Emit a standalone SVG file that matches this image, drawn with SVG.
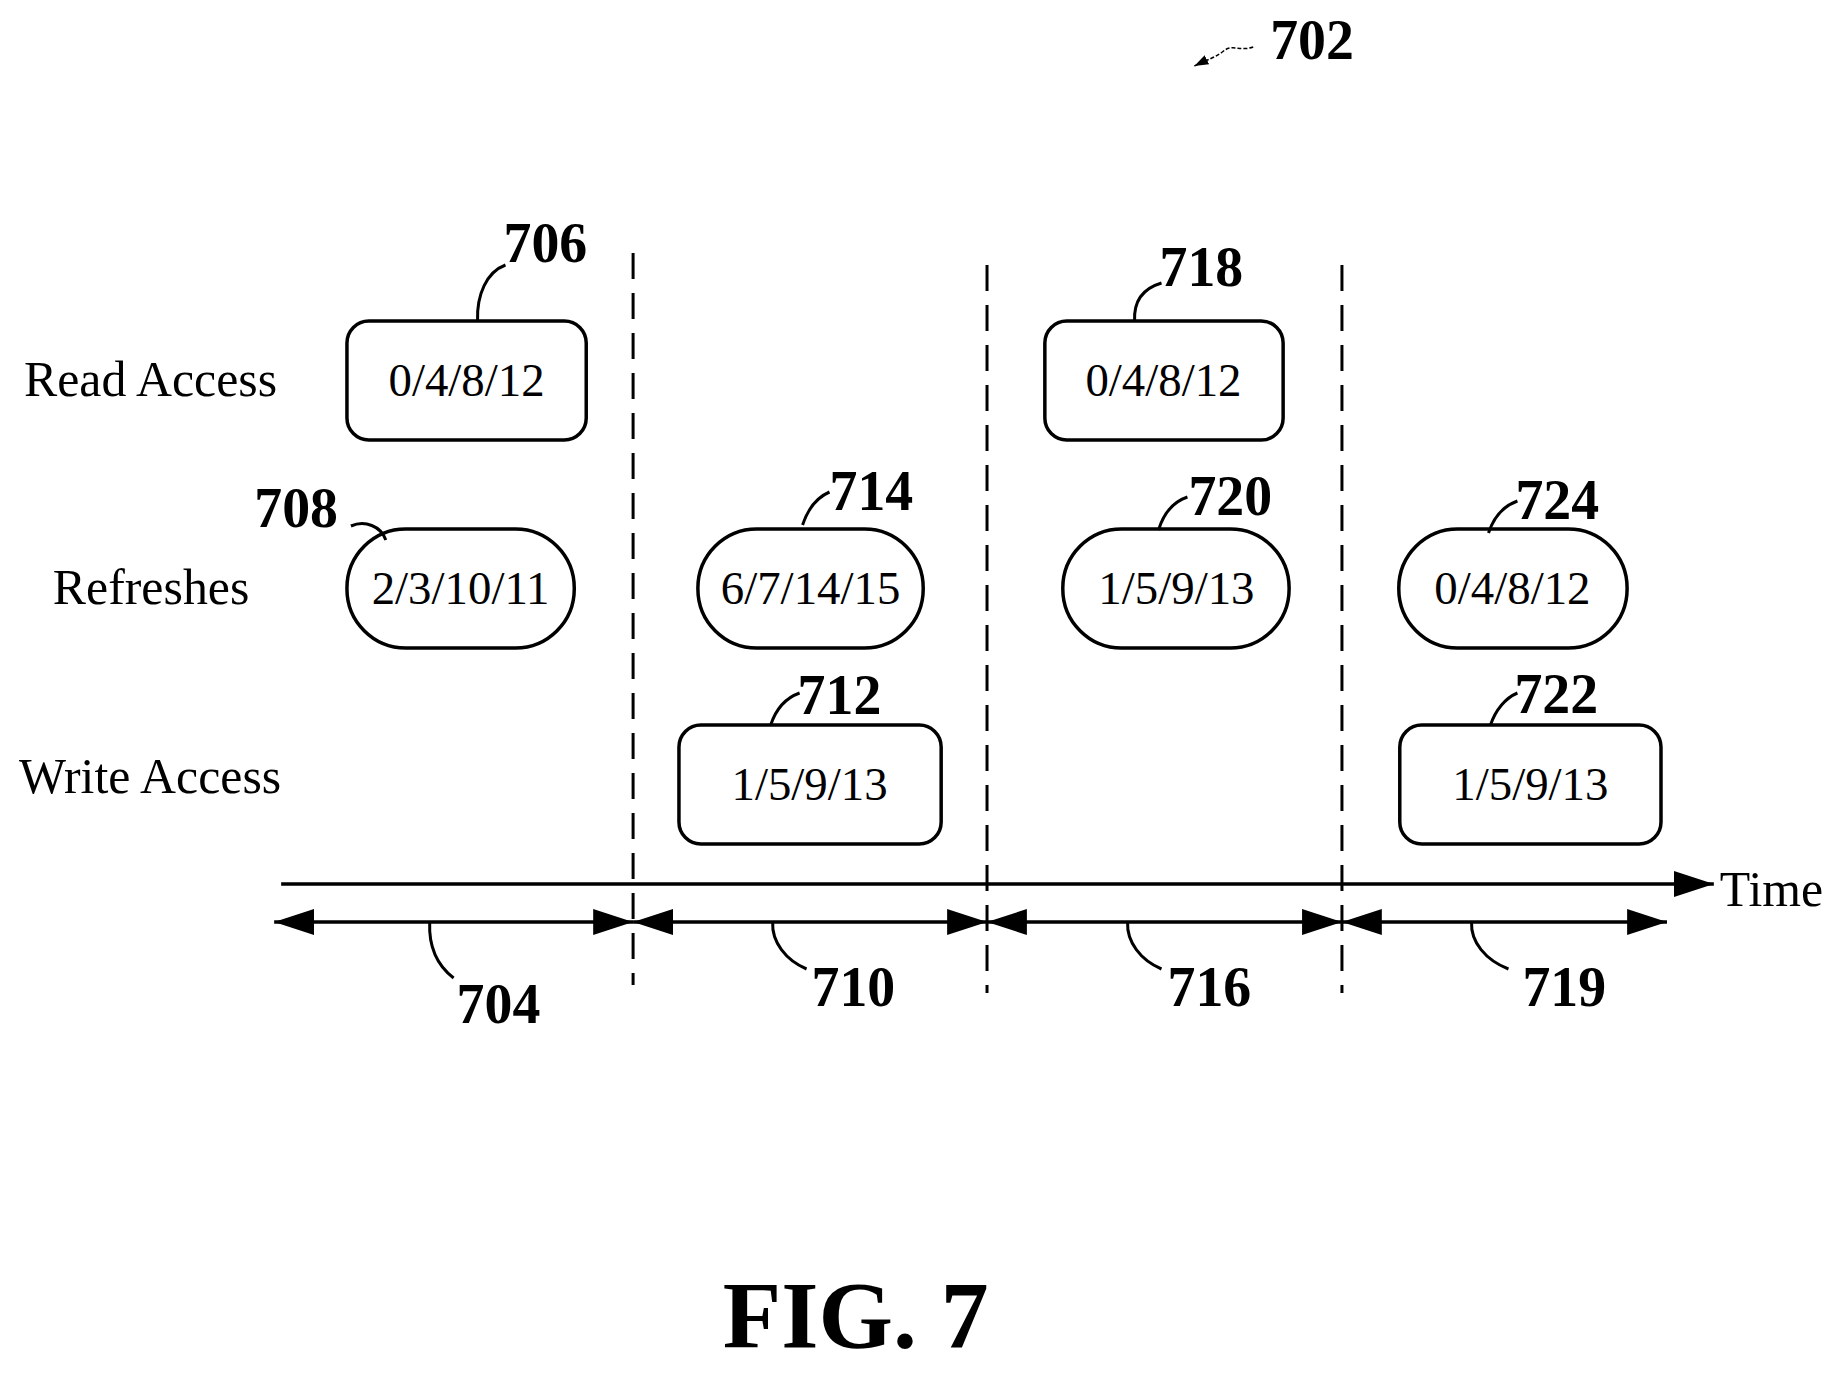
<svg xmlns="http://www.w3.org/2000/svg" width="1839" height="1376" viewBox="0 0 1839 1376">
<style>
.b{fill:none;stroke:#000;stroke-width:3.5}
.t{font-family:"Liberation Serif",serif;font-size:50px}
.v{font-family:"Liberation Serif",serif;font-size:47px;text-anchor:middle}
.n{font-family:"Liberation Serif",serif;font-size:56px;font-weight:bold}
.d{stroke:#000;stroke-width:3;stroke-dasharray:26,14}
.l{fill:none;stroke:#000;stroke-width:3}
</style>
<defs>
<marker id="a" markerWidth="40" markerHeight="26" refX="40" refY="13" orient="auto-start-reverse" markerUnits="userSpaceOnUse"><path d="M0,0L40,13L0,26Z"/></marker>
<marker id="s" markerWidth="14" markerHeight="10" refX="14" refY="5" orient="auto" markerUnits="userSpaceOnUse"><path d="M0,0L14,5L0,10Z"/></marker>
</defs>
<rect width="1839" height="1376" fill="#fff"/>
<g transform="translate(-2,0) scale(0.997,1)">
<text class="t" x="26" y="396">Read Access</text>
<text class="t" x="55" y="604">Refreshes</text>
<text class="t" x="21" y="793">Write Access</text>
<g id="n706"><rect class="b" x="350" y="321" width="240" height="119" rx="22"/><text class="v" x="470" y="396">0/4/8/12</text></g>
<g id="n708"><rect class="b" x="350" y="529" width="228" height="119" rx="59"/><text class="v" x="464" y="604">2/3/10/11</text></g>
<g id="n714"><rect class="b" x="702" y="529" width="226" height="119" rx="59"/><text class="v" x="815" y="604">6/7/14/15</text></g>
<g id="n712"><rect class="b" x="683" y="725" width="263" height="119" rx="22"/><text class="v" x="814" y="800">1/5/9/13</text></g>
<g id="n718"><rect class="b" x="1050" y="321" width="239" height="119" rx="22"/><text class="v" x="1169" y="396">0/4/8/12</text></g>
<g id="n720"><rect class="b" x="1068" y="529" width="227" height="119" rx="59"/><text class="v" x="1182" y="604">1/5/9/13</text></g>
<g id="n724"><rect class="b" x="1405" y="529" width="229" height="119" rx="59"/><text class="v" x="1519" y="604">0/4/8/12</text></g>
<g id="n722"><rect class="b" x="1406" y="725" width="262" height="119" rx="22"/><text class="v" x="1537" y="800">1/5/9/13</text></g>
<g id="connectors">
<line class="d" x1="637" y1="253" x2="637" y2="985"/>
<line class="d" x1="992" y1="265" x2="992" y2="993"/>
<line class="d" x1="1348" y1="265" x2="1348" y2="993"/>
<line class="b" x1="284" y1="884" x2="1721" y2="884" marker-end="url(#a)"/>
<line class="b" x1="277" y1="922" x2="637" y2="922" marker-start="url(#a)" marker-end="url(#a)"/>
<line class="b" x1="637" y1="922" x2="992" y2="922" marker-start="url(#a)" marker-end="url(#a)"/>
<line class="b" x1="992" y1="922" x2="1348" y2="922" marker-start="url(#a)" marker-end="url(#a)"/>
<line class="b" x1="1348" y1="922" x2="1674" y2="922" marker-start="url(#a)" marker-end="url(#a)"/>
<path class="l" d="M481,321C480,295 490,272 509,265"/>
<path class="l" d="M354,526C368,520 384,526 389,540"/>
<path class="l" d="M807,525C812,510 820,498 834,492"/>
<path class="l" d="M775,725C780,710 790,698 804,693"/>
<path class="l" d="M1140,321C1139,300 1150,288 1167,283"/>
<path class="l" d="M1164,530C1169,514 1178,502 1193,497"/>
<path class="l" d="M1495,533C1500,518 1510,506 1524,501"/>
<path class="l" d="M1497,725C1502,710 1512,698 1524,693"/>
<path class="l" d="M433,922C432,945 440,965 457,978"/>
<path class="l" d="M777,922C776,942 790,960 811,969"/>
<path class="l" d="M1133,922C1132,942 1146,960 1167,969"/>
<path class="l" d="M1478,922C1477,942 1492,960 1515,969"/>
<path fill="none" stroke="#000" stroke-width="1.5" stroke-dasharray="4,2" d="M1259,47C1245,52 1238,43 1228,52C1220,58 1212,60 1200,66" marker-end="url(#s)"/>
</g>
<text class="n" x="507" y="262">706</text>
<text class="n" x="257" y="527">708</text>
<text class="n" x="834" y="510">714</text>
<text class="n" x="802" y="714">712</text>
<text class="n" x="1165" y="286">718</text>
<text class="n" x="1194" y="515">720</text>
<text class="n" x="1522" y="519">724</text>
<text class="n" x="1521" y="713">722</text>
<text class="n" x="1276" y="59">702</text>
<text class="n" x="460" y="1023">704</text>
<text class="n" x="816" y="1006">710</text>
<text class="n" x="1173" y="1006">716</text>
<text class="n" x="1529" y="1006">719</text>
<text class="t" x="1727" y="906">Time</text>
<text class="n" x="727" y="1348" style="font-size:96px">FIG. 7</text>
</g>
</svg>
